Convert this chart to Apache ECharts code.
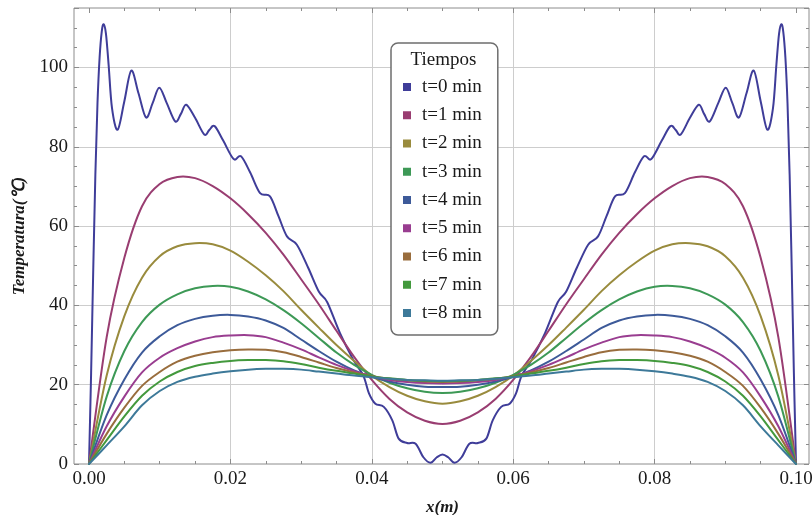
<!DOCTYPE html>
<html>
<head>
<meta charset="utf-8">
<script src="https://cdn.jsdelivr.net/npm/echarts@6/dist/echarts.min.js"></script>
<style>
  html, body { margin: 0; padding: 0; background: #fff; }
  #chart { width: 812px; height: 515px; }
</style>
</head>
<body>
<div id="chart"></div>
<script>
// ---------------- data ----------------
const seriesNames = ['t=0 min','t=1 min','t=2 min','t=3 min','t=4 min','t=5 min','t=6 min','t=7 min','t=8 min'];
const seriesColors = ['#3f3d99','#993d71','#998b3d','#3d9956','#3d5a99','#993d90','#996d3d','#43993d','#3d7999'];

// t = 0 min (truncated series, oscillating) – non-uniform x positions
const x0 = [0, 0.0003, 0.0006, 0.0009, 0.0012, 0.0015, 0.0018, 0.00207, 0.0024, 0.00277, 0.00325, 0.00405, 0.005, 0.00598, 0.007, 0.00806, 0.009, 0.00994, 0.011, 0.0122, 0.013, 0.01376, 0.015, 0.0163, 0.017, 0.01777, 0.019, 0.02046, 0.0215, 0.0228, 0.0242, 0.0256, 0.0268, 0.028, 0.0294, 0.031, 0.0325, 0.0337, 0.0355, 0.0374, 0.0388, 0.0396, 0.0405, 0.0417, 0.0429, 0.0438, 0.045, 0.0462, 0.0473, 0.0483, 0.0492, 0.05,
  0.0508, 0.0517, 0.0527, 0.0538, 0.055, 0.0562, 0.0571, 0.0583, 0.0595, 0.0604, 0.0612, 0.0626, 0.0645, 0.0663, 0.0675, 0.069, 0.0706, 0.072, 0.0732, 0.0744, 0.0758, 0.0772, 0.0785, 0.07954, 0.081, 0.08223, 0.083, 0.0837, 0.085, 0.08624, 0.087, 0.0878, 0.089, 0.09006, 0.091, 0.09194, 0.093, 0.09402, 0.095, 0.09595, 0.09675, 0.09723, 0.0976, 0.09793, 0.0982, 0.0985, 0.0988, 0.0991, 0.0994, 0.0997, 0.1];
const t0 = [0, 23, 49, 73, 91, 102.5, 109, 110.9, 108.5, 100.8, 89.8, 84.3, 91.5, 99.2, 93.5, 87.4, 91, 94.9, 91, 86.4, 88.3, 90.6, 87.3, 83.1, 84.2, 85.2, 81.5, 76.9, 77.6, 73.5, 68.3, 67.5, 62.5, 57.4, 55.3, 49.5, 43.5, 40.8, 33, 26.2, 22.3, 17.8, 15.2, 14.4, 11, 6.4, 5.3, 5.1, 1.7, 0.3, 1.7, 2.4,
  1.7, 0.3, 1.7, 5.1, 5.3, 6.4, 11, 14.4, 15.2, 17.8, 22.3, 26.2, 33, 40.8, 43.5, 49.5, 55.3, 57.4, 62.5, 67.5, 68.3, 73.5, 77.6, 76.9, 81.5, 85.2, 84.2, 83.1, 87.3, 90.6, 88.3, 86.4, 91, 94.9, 91, 87.4, 93.5, 99.2, 91.5, 84.3, 89.8, 100.8, 108.5, 110.9, 109, 102.5, 91, 73, 49, 23, 0];

// t = 1..8 min, sampled every 0.0025 m
const xs = [0, 0.0025, 0.005, 0.0075, 0.01, 0.0125, 0.015, 0.0175, 0.02, 0.0225, 0.025, 0.0275, 0.03, 0.0325, 0.035, 0.0375, 0.04, 0.0425, 0.045, 0.0475, 0.05,
  0.0525, 0.055, 0.0575, 0.06, 0.0625, 0.065, 0.0675, 0.07, 0.0725, 0.075, 0.0775, 0.08, 0.0825, 0.085, 0.0875, 0.09, 0.0925, 0.095, 0.0975, 0.1];
const t1 = [0, 32, 52, 65, 70.6, 72.4, 72.1, 70.1, 67, 63, 58.3, 52.8, 46.6, 40.3, 33.6, 27, 21.2, 16.4, 13, 10.9, 10.1,
  10.9, 13, 16.4, 21.2, 27, 33.6, 40.3, 46.6, 52.8, 58.3, 63, 67, 70.1, 72.1, 72.4, 70.6, 65, 52, 32, 0];
const t2 = [0, 22.3, 37.3, 47, 52.4, 54.9, 55.7, 55.4, 53.8, 51, 47.6, 43.6, 38.9, 34.4, 30, 26, 22.3, 19.4, 17.2, 15.8, 15.2,
  15.8, 17.2, 19.4, 22.3, 26, 30, 34.4, 38.9, 43.6, 47.6, 51, 53.8, 55.4, 55.7, 54.9, 52.4, 47, 37.3, 22.3, 0];
const t3 = [0, 17, 28.5, 35.8, 40.2, 42.8, 44.3, 44.9, 44.7, 43.5, 41.5, 38.8, 35.5, 31.8, 28.1, 25, 22.5, 20.5, 19.1, 18.2, 17.9,
  18.2, 19.1, 20.5, 22.5, 25, 28.1, 31.8, 35.5, 38.8, 41.5, 43.5, 44.7, 44.9, 44.3, 42.8, 40.2, 35.8, 28.5, 17, 0];
const t4 = [0, 12.3, 21.3, 28.1, 32.2, 35, 36.6, 37.4, 37.6, 37.2, 36.2, 34.3, 31.4, 28.5, 25.8, 23.6, 22, 20.8, 20, 19.5, 19.4,
  19.5, 20, 20.8, 22, 23.6, 25.8, 28.5, 31.4, 34.3, 36.2, 37.2, 37.6, 37.4, 36.6, 35, 32.2, 28.1, 21.3, 12.3, 0];
const t5 = [0, 9.5, 17, 23.1, 26.8, 29.2, 30.9, 32, 32.4, 32.5, 32, 30.6, 28.9, 26.9, 25, 23.4, 22.1, 21.2, 20.7, 20.4, 20.3,
  20.4, 20.7, 21.2, 22.1, 23.4, 25, 26.9, 28.9, 30.6, 32, 32.5, 32.4, 32, 30.9, 29.2, 26.8, 23.1, 17, 9.5, 0];
const t6 = [0, 7.6, 14.2, 19.7, 23.2, 25.8, 27.3, 28.2, 28.7, 28.9, 28.8, 28.2, 27, 25.6, 24.2, 23.1, 22.2, 21.5, 21.1, 20.8, 20.7,
  20.8, 21.1, 21.5, 22.2, 23.1, 24.2, 25.6, 27, 28.2, 28.8, 28.9, 28.7, 28.2, 27.3, 25.8, 23.2, 19.7, 14.2, 7.6, 0];
const t7 = [0, 6, 12, 17.2, 20.8, 23.2, 24.7, 25.5, 26, 26.2, 26.2, 25.9, 25.2, 24.3, 23.5, 22.8, 22.1, 21.6, 21.2, 21, 20.9,
  21, 21.2, 21.6, 22.1, 22.8, 23.5, 24.3, 25.2, 25.9, 26.2, 26.2, 26, 25.5, 24.7, 23.2, 20.8, 17.2, 12, 6, 0];
const t8 = [0, 4.7, 9.5, 14.8, 18.4, 20.7, 22, 22.8, 23.4, 23.8, 24, 24, 23.8, 23.3, 22.8, 22.3, 21.9, 21.5, 21.2, 21.1, 21,
  21.1, 21.2, 21.5, 21.9, 22.3, 22.8, 23.3, 23.8, 24, 24, 23.8, 23.4, 22.8, 22, 20.7, 18.4, 14.8, 9.5, 4.7, 0];

const xTickLabels = ['0.00', '0.02', '0.04', '0.06', '0.08', '0.10'];

// ---------------- chart ----------------
const FONT = '"Liberation Serif", "Times New Roman", serif';
const frameColor = '#8c8c8c';
const gridColor = '#cdcdcd';
const textColor = '#1a1a1a';

const curveSets = [
  { x: x0, y: t0 },
  { x: xs, y: t1 }, { x: xs, y: t2 }, { x: xs, y: t3 }, { x: xs, y: t4 },
  { x: xs, y: t5 }, { x: xs, y: t6 }, { x: xs, y: t7 }, { x: xs, y: t8 }
];

// Smooth curve through the data points (Catmull-Rom, drawn as cubic Bezier),
// positions obtained through the cartesian axes via api.coord.
function renderCurve(params, api) {
  if (params.dataIndexInside !== 0) return null;
  const n = params.dataInsideLength;
  const pts = [];
  for (let i = 0; i < n; i++) {
    pts.push(api.coord([api.value(0, i), api.value(1, i)]));
  }
  let d = 'M' + pts[0][0] + ',' + pts[0][1];
  for (let i = 0; i < n - 1; i++) {
    const p0 = pts[Math.max(i - 1, 0)], p1 = pts[i], p2 = pts[i + 1], p3 = pts[Math.min(i + 2, n - 1)];
    const c1x = p1[0] + (p2[0] - p0[0]) / 6, c1y = p1[1] + (p2[1] - p0[1]) / 6;
    const c2x = p2[0] - (p3[0] - p1[0]) / 6, c2y = p2[1] - (p3[1] - p1[1]) / 6;
    d += 'C' + c1x + ',' + c1y + ',' + c2x + ',' + c2y + ',' + p2[0] + ',' + p2[1];
  }
  return {
    type: 'path',
    shape: { pathData: d },
    style: { fill: null, stroke: api.visual('color'), lineWidth: 2, lineJoin: 'round', lineCap: 'round' },
    silent: true
  };
}

const series = curveSets.map((c, i) => ({
  name: seriesNames[i],
  type: 'custom',
  coordinateSystem: 'cartesian2d',
  xAxisIndex: 1,
  yAxisIndex: 2,
  data: c.x.map((x, k) => [x, c.y[k]]),
  encode: { x: 0, y: 1 },
  renderItem: renderCurve,
  itemStyle: { color: seriesColors[i] },
  animation: false,
  z: 2 + i
}));

const yCommon = {
  type: 'value', min: 0, max: 115, interval: 20,
  axisLine: { show: false },
  axisTick: { show: true, inside: true, length: 5, lineStyle: { color: frameColor, width: 1 } },
  minorTick: { show: true, splitNumber: 4, length: 3, lineStyle: { color: frameColor, width: 1 } }
};

const option = {
  backgroundColor: '#ffffff',
  animation: false,
  grid: [
    { left: 74, right: 3, top: 8, bottom: 51, show: true, borderColor: frameColor, borderWidth: 1, backgroundColor: 'transparent', containLabel: false, outerBoundsMode: 'none' },
    { left: 89, right: 16, top: 8, bottom: 51, containLabel: false, outerBoundsMode: 'none' }
  ],
  xAxis: [
    { gridIndex: 0, type: 'value', min: 0, max: 1, show: false },
    {
      gridIndex: 1, type: 'value', min: 0, max: 0.1, interval: 0.02, position: 'bottom',
      axisLine: { show: false },
      axisTick: { show: true, inside: true, length: 5, lineStyle: { color: frameColor, width: 1 } },
      minorTick: { show: true, splitNumber: 4, length: 3, lineStyle: { color: frameColor, width: 1 } },
      axisLabel: {
        show: true, margin: 6, color: textColor, fontFamily: FONT, fontSize: 19,
        formatter: v => xTickLabels[Math.round(v / 0.02)] || ''
      },
      splitLine: { show: true, showMinLine: false, showMaxLine: false, lineStyle: { color: gridColor, width: 1 } },
      name: 'x(m)', nameLocation: 'middle', nameGap: 35,
      nameTextStyle: { fontFamily: FONT, fontSize: 17, fontWeight: 'bold', fontStyle: 'italic', color: textColor }
    },
    {
      gridIndex: 1, type: 'value', min: 0, max: 0.1, interval: 0.02, position: 'top',
      axisLine: { show: false },
      axisTick: { show: true, inside: true, length: 5, lineStyle: { color: frameColor, width: 1 } },
      minorTick: { show: true, splitNumber: 4, length: 3, lineStyle: { color: frameColor, width: 1 } },
      axisLabel: { show: false },
      splitLine: { show: false }
    }
  ],
  yAxis: [
    Object.assign({}, yCommon, {
      gridIndex: 0, position: 'left',
      axisLabel: { show: true, margin: 6, color: textColor, fontFamily: FONT, fontSize: 19, showMaxLabel: false },
      splitLine: { show: true, showMinLine: false, showMaxLine: false, lineStyle: { color: gridColor, width: 1 } },
      name: 'Temperatura(\u2103)', nameLocation: 'middle', nameGap: 39,
      nameTextStyle: { fontFamily: FONT, fontSize: 17, fontWeight: 'bold', fontStyle: 'italic', color: textColor }
    }),
    Object.assign({}, yCommon, {
      gridIndex: 0, position: 'right',
      axisLabel: { show: false },
      splitLine: { show: false }
    }),
    { gridIndex: 1, type: 'value', min: 0, max: 115, show: false, splitLine: { show: false } }
  ],
  legend: {
    orient: 'vertical',
    left: 391, top: 43,
    data: seriesNames,
    icon: 'rect',
    itemWidth: 8, itemHeight: 8,
    itemGap: 8.25,
    itemStyle: { borderWidth: 0 },
    padding: [34, 16, 12, 12],
    backgroundColor: '#ffffff',
    borderColor: '#6e6e6e', borderWidth: 1.5, borderRadius: 7,
    selectedMode: false,
    textStyle: { fontFamily: FONT, fontSize: 19, color: textColor, lineHeight: 20, padding: [0, 0, 0, 6] }
  },
  graphic: [
    {
      type: 'text', x: 443.5, y: 60.5, z: 100,
      style: { text: 'Tiempos', fontFamily: FONT, fontSize: 19, fill: textColor, align: 'center', verticalAlign: 'middle' }
    }
  ],
  series: series
};

const chart = echarts.init(document.getElementById('chart'), null, { renderer: 'canvas' });
chart.setOption(option);
</script>
</body>
</html>
